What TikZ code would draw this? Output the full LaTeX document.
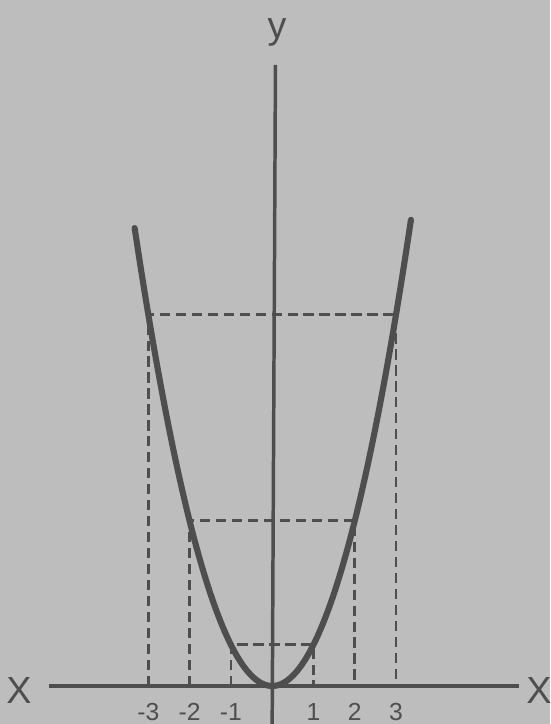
\documentclass[tikz,border=0pt]{standalone}
\usepackage{xcolor}
\usepackage{fontspec}
\setmainfont{Liberation Sans}
\usepackage{tikz}
\definecolor{paper}{HTML}{BDBDBD}
\definecolor{ink}{HTML}{4E4E4E}
\tikzstyle{axis} = [line width=2.4pt, draw=ink]
\tikzstyle{curve} = [line width=4.2pt, draw=ink, line cap=round]
\tikzstyle{guide} = [line width=1.8pt, draw=ink, dash pattern=on 7pt off 4pt]
\tikzstyle{axislabel} = [text=ink, font=\fontsize{26}{26}\selectfont]
\tikzstyle{ticklabel} = [text=ink, font=\fontsize{17}{17}\selectfont]

\begin{document}
\begin{tikzpicture}
    \fill[paper] (-6.59,-0.92) rectangle (6.73,16.61);
    \useasboundingbox (-6.59,-0.92) rectangle (6.73,16.61);

    \coordinate (xstart) at (-5.40,0);
    \coordinate (xend) at (5.98,0);
    \coordinate (ystart) at (0,-0.92);
    \coordinate (yend) at (0.08,15.04);
    \draw[axis] (xstart) -- (xend);
    \draw[axis] (ystart) -- (yend);

    \node (xleft) [axislabel] at (-6.13,-0.12) {X};
    \node (xright) [axislabel] at (6.46,-0.10) {X};
    \node (ylabel) [axislabel] at (0.12,15.82) {y};

    \foreach \x in {1,2,3} {
        \coordinate (l\x) at (-\x,\x*\x);
        \coordinate (r\x) at (\x,\x*\x);
        \draw[guide] (-\x,0) -- (l\x) -- (r\x) -- (\x,0);
    }

    \draw[curve] plot[domain=-3.33:3.36, samples=90, smooth] (\x,\x*\x);

    \foreach \x in {-3,-2,-1,1,2,3}
        \node (t\x) [ticklabel] at (\x,-0.63) {\x};
\end{tikzpicture}
\end{document}
